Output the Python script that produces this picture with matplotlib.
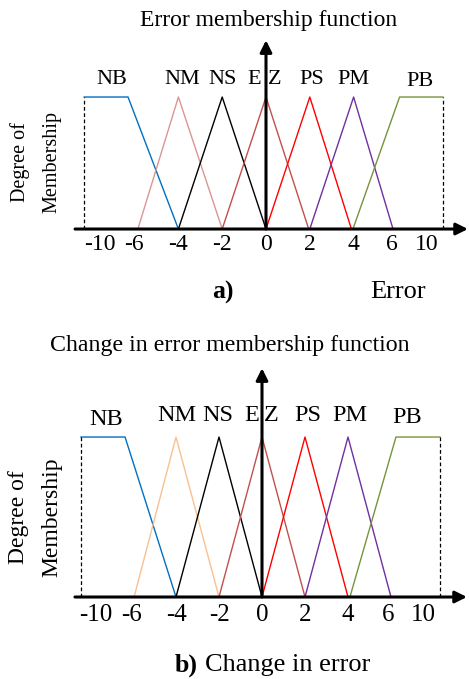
import matplotlib.pyplot as plt

plt.rcParams['font.family'] = ['Liberation Serif', 'DejaVu Serif']

# --- Data: membership function breakpoints (linear drawing units) ---
labels = ['NB', 'NM', 'NS', 'EZ', 'PS', 'PM', 'PB']
err_x = {
    'NB': [-8.3, -6.3, -4.0],
    'NM': [-5.85, -4.0, -2.0],
    'NS': [-4.0, -2.0, 0.0],
    'EZ': [-2.0, 0.0, 1.95],
    'PS': [0.0, 2.0, 3.9],
    'PM': [2.0, 4.0, 5.8],
    'PB': [3.97, 6.1, 8.08],
}
err_y = {
    'NB': [1, 1, 0], 'NM': [0, 1, 0], 'NS': [0, 1, 0], 'EZ': [0, 1, 0],
    'PS': [0, 1, 0], 'PM': [0, 1, 0], 'PB': [0, 1, 1],
}
derr_x = {
    'NB': [-8.42, -6.37, -4.0],
    'NM': [-5.95, -4.0, -2.0],
    'NS': [-4.0, -2.0, 0.0],
    'EZ': [-2.0, 0.0, 2.0],
    'PS': [0.0, 2.0, 4.0],
    'PM': [2.0, 4.0, 6.0],
    'PB': [4.09, 6.23, 8.28],
}
derr_y = err_y

tick_labels = ['-10', '-6', '-4', '-2', '0', '2', '4', '6', '10']
err_ticks = [-7.58, -6.03, -4.0, -2.0, 0.0, 2.0, 4.0, 5.75, 7.35]
derr_ticks = [-7.72, -6.09, -4.0, -2.0, 0.0, 2.0, 4.0, 5.86, 7.49]

colors_a = {'NB': '#0070C0', 'NM': '#D99694', 'NS': '#000000', 'EZ': '#C0504D',
            'PS': '#FF0000', 'PM': '#7030A0', 'PB': '#77933C'}
colors_b = dict(colors_a, NM='#FAC090')

W, H = 469, 679
fig = plt.figure(figsize=(W / 100, H / 100), dpi=100)


def panel(rect, xlim, ylim, xs, ys, cols, x_end, x_start):
    ax = fig.add_axes(rect)
    ax.set_xlim(*xlim)
    ax.set_ylim(*ylim)
    ax.axis('off')
    for name in labels:
        ax.plot(xs[name], ys[name], color=cols[name], lw=1.0)
    # dashed edges of NB / PB
    ax.plot([xs['NB'][0]] * 2, [0, 1], 'k--', lw=0.9, dashes=(3, 2))
    ax.plot([xs['PB'][-1]] * 2, [0, 1], 'k--', lw=0.9, dashes=(3, 2))
    # axes arrows
    ax.annotate('', xy=(x_end, 0), xytext=(x_start, 0),
                arrowprops=dict(arrowstyle='-|>,head_length=0.7,head_width=0.35',
                                lw=2.2, color='black', shrinkA=0, shrinkB=0))
    ax.annotate('', xy=(0, 1.43), xytext=(0, 0),
                arrowprops=dict(arrowstyle='-|>,head_length=0.7,head_width=0.35',
                                lw=2.2, color='black', shrinkA=0, shrinkB=0))
    return ax


# ---- a) Error ----
ax1 = panel([0, (H - 330) / H, 1, 330 / H], (-266 / 21.9, (W - 266) / 21.9),
            (-0.765, 1.735), err_x, err_y, colors_a, 9.22, -8.72)
for t, lab in zip(err_ticks, tick_labels):
    ax1.text(t, -0.114, lab, ha='center', va='center', fontsize=17)
ax1.text(0.1, 1.576, 'Error membership function', ha='center', va='center', fontsize=17)
lab_pos_a = {'NB': -7.03, 'NM': -3.84, 'NS': -2.0, 'PS': 2.1, 'PM': 3.97}
for name, xp in lab_pos_a.items():
    ax1.text(xp, 1.136, name, ha='center', va='center', fontsize=16)
ax1.text(-0.55, 1.136, 'E', ha='center', va='center', fontsize=16)
ax1.text(0.41, 1.136, 'Z', ha='center', va='center', fontsize=16)
ax1.text(7.03, 1.114, 'PB', ha='center', va='center', fontsize=16)
ax1.text((20 - 266) / 21.9, (229 - 162) / 132, 'Degree of', rotation=90,
         ha='center', va='center', fontsize=14.5)
ax1.text((52 - 266) / 21.9, (229 - 162) / 132, 'Membership', rotation=90,
         ha='center', va='center', fontsize=14.5)
ax1.text((223 - 266) / 21.9, -0.477, 'a)', ha='center', va='center',
         fontsize=18.5, fontweight='bold')
ax1.text((398 - 266) / 21.9, -0.477, 'Error', ha='center', va='center', fontsize=19)

# ---- b) Change in error ----
ax2 = panel([0, 0, 1, (H - 330) / H], (-262 / 21.5, (W - 262) / 21.5),
            (-0.5125, 1.669), derr_x, derr_y, colors_b, 9.53, -8.7)
for t, lab in zip(derr_ticks, tick_labels):
    ax2.text(t, -0.1125, lab, ha='center', va='center', fontsize=18)
ax2.text(-1.49, 1.575, 'Change in error membership function', ha='center',
         va='center', fontsize=17.2)
lab_pos_b = {'NB': -7.26, 'NM': -3.95, 'NS': -2.05, 'PS': 2.15, 'PM': 4.09}
for name, xp in lab_pos_b.items():
    ax2.text(xp, 1.1375 if name != 'NB' else 1.11, name, ha='center', va='center', fontsize=17.5)
ax2.text(-0.5, 1.1375, 'E', ha='center', va='center', fontsize=17.5)
ax2.text(0.45, 1.1375, 'Z', ha='center', va='center', fontsize=17.5)
ax2.text(6.74, 1.12, 'PB', ha='center', va='center', fontsize=17.5)
ax2.text((19 - 262) / 21.5, (597 - 517) / 160, 'Degree of', rotation=90,
         ha='center', va='center', fontsize=17)
ax2.text((52 - 262) / 21.5, (597 - 517) / 160, 'Membership', rotation=90,
         ha='center', va='center', fontsize=17)
ax2.text((175 - 262) / 21.5, -0.425, 'b)', ha='left', va='center',
         fontsize=18.7, fontweight='bold')
ax2.text((205 - 262) / 21.5, -0.425, 'Change in error', ha='left', va='center',
         fontsize=19)

fig.savefig('out.png', dpi=100)
